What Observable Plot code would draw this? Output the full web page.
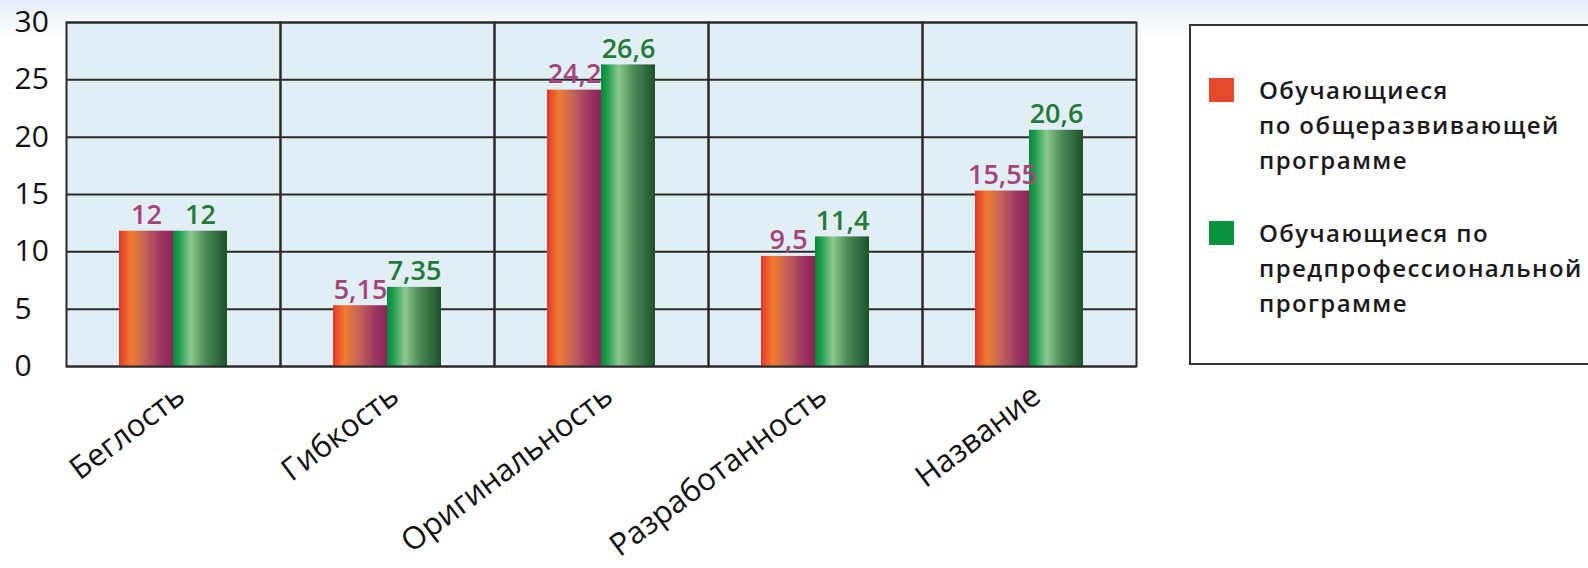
<!DOCTYPE html>
<html>
<head>
<meta charset="utf-8">
<script src="https://cdn.jsdelivr.net/npm/d3@7"></script>
<script src="https://cdn.jsdelivr.net/npm/@observablehq/plot@0.6"></script>
<style>
  html, body { margin: 0; padding: 0; width: 1588px; height: 568px; overflow: hidden; }
  body {
    background: linear-gradient(to bottom, #e4edf7 0px, #f4f8fc 22px, #ffffff 40px);
    font-family: "Open Sans", sans-serif;
  }
  #wrap { position: relative; width: 1588px; height: 568px; }
  #chart { position: absolute; left: 0; top: 0; }
  #legend {
    position: absolute; left: 1189px; top: 24px; width: 420px; height: 341px;
    border: 2px solid #333; background: #fff; box-sizing: border-box;
  }
  .sw { position: absolute; left: 18px; width: 25px; height: 24px; }
  .lt { position: absolute; left: 68px; font-size: 24px; font-weight: 600; line-height: 35px; color: #1a1a1a; white-space: nowrap; letter-spacing: 1.4px; }
</style>
</head>
<body>
<div id="wrap">
  <div id="chart"></div>
  <div id="legend"></div>
</div>
<script>
const categories = ["Беглость", "Гибкость", "Оригинальность", "Разработанность", "Название"];
const seriesNames = ["Обучающиеся по общеразвивающей программе", "Обучающиеся по предпрофессиональной программе"];
const legendLines = [
  ["Обучающиеся", "по общеразвивающей", "программе"],
  ["Обучающиеся по", "предпрофессиональной", "программе"]
];
const generalValues = [11.8, 5.3, 24.1, 9.6, 15.3];
const preprofValues = [11.8, 6.9, 26.3, 11.3, 20.6];
const generalLabels = ["12", "5,15", "24,2", "9,5", "15,55"];
const preprofLabels = ["12", "7,35", "26,6", "11,4", "20,6"];
const yTicks = [0, 5, 10, 15, 20, 25, 30];

const seriesFill = ["url(#gradOrange)", "url(#gradGreen)"];
const labelColor = ["#a4457a", "#217a3a"];
const swatchColor = ["#e6482b", "#0b9241"];

const rows = [];
categories.forEach((c, i) => {
  rows.push({category: c, series: seriesNames[0], s: 0, value: generalValues[i], label: generalLabels[i]});
  rows.push({category: c, series: seriesNames[1], s: 1, value: preprofValues[i], label: preprofLabels[i]});
});

function defs() {
  const d = d3.create("svg:defs");
  const g1 = d.append("linearGradient").attr("id", "gradOrange").attr("x1", 0).attr("x2", 1).attr("y1", 0).attr("y2", 0);
  [[0, "#e6352a"], [0.22, "#f07d30"], [0.5, "#c0605a"], [0.8, "#9a3460"], [1, "#8a2558"]]
    .forEach(([o, c]) => g1.append("stop").attr("offset", o).attr("stop-color", c));
  const g2 = d.append("linearGradient").attr("id", "gradGreen").attr("x1", 0).attr("x2", 1).attr("y1", 0).attr("y2", 0);
  [[0, "#07893a"], [0.1, "#1a9a4c"], [0.33, "#8cc98e"], [0.6, "#4c8a58"], [1, "#1c522a"]]
    .forEach(([o, c]) => g2.append("stop").attr("offset", o).attr("stop-color", c));
  return d.node();
}

const chart = Plot.plot({
  width: 1139,
  height: 568,
  marginLeft: 64,
  marginRight: 2,
  marginTop: 22,
  marginBottom: 202,
  style: {fontFamily: "Open Sans, sans-serif", background: "transparent", overflow: "visible"},
  fx: {domain: categories, padding: 0, label: null},
  x: {domain: seriesNames, paddingInner: 0, paddingOuter: 0.95, axis: null},
  y: {domain: [0, 30], ticks: yTicks, label: null},
  color: {type: "identity"},
  marks: [
    defs,
    Plot.frame({fill: "#e1eef4", stroke: "none"}),
    Plot.gridY(yTicks, {stroke: "#2b2b2b", strokeOpacity: 1, strokeWidth: 2}),
    Plot.barY(rows.filter(d => d.s === 0), {fx: "category", x: "series", y: "value", fill: seriesFill[0]}),
    Plot.barY(rows.filter(d => d.s === 1), {fx: "category", x: "series", y: "value", fill: seriesFill[1]}),
    Plot.frame({stroke: "#2b2b2b", strokeWidth: 2}),
    Plot.text(rows, {fx: "category", x: "series", y: "value", text: "label", fill: d => labelColor[d.s], lineAnchor: "bottom", dy: -7, fontSize: 27, fontWeight: 600}),
    Plot.axisY(yTicks, {anchor: "left", tickSize: 0, tickPadding: 0, textAnchor: "start", dx: -52, fontSize: 30, fill: "#111", label: null}),
    Plot.axisFx({anchor: "bottom", tickSize: 0, tickPadding: 16, rotate: -37, textAnchor: "end", dx: 0, fontSize: 31, fill: "#111", label: null})
  ]
});
document.getElementById("chart").appendChild(chart);

const legend = document.getElementById("legend");
const tops = [52, 195];
legendLines.forEach((lines, i) => {
  const sw = document.createElement("div");
  sw.className = "sw";
  sw.style.top = tops[i] + "px";
  sw.style.background = swatchColor[i];
  legend.appendChild(sw);
  lines.forEach((t, j) => {
    const el = document.createElement("div");
    el.className = "lt";
    el.style.top = (tops[i] - 6 + j * 35) + "px";
    el.textContent = t;
    legend.appendChild(el);
  });
});
</script>
</body>
</html>
